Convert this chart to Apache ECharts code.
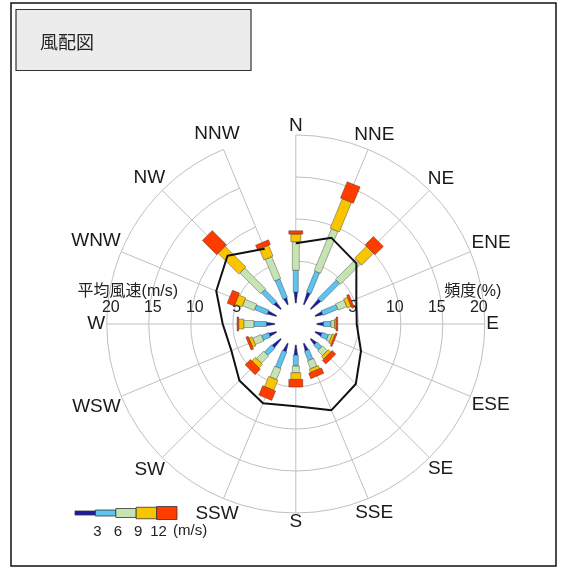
<!DOCTYPE html>
<html>
<head>
<meta charset="utf-8">
<script src="https://cdn.jsdelivr.net/npm/echarts@6/dist/echarts.min.js"></script>
<style>
  html, body { margin: 0; padding: 0; background: #fff; }
  #chart { width: 564px; height: 569px; }
</style>
</head>
<body>
<div id="chart"></div>
<script>
// 16 directions, clockwise from north
const directions = ['N', 'NNE', 'NE', 'ENE', 'E', 'ESE', 'SE', 'SSE', 'S', 'SSW', 'SW', 'WSW', 'W', 'WNW', 'NW', 'NNW'];

// frequency (%) by wind speed class
const freq0to3   = [1.3, 1.5, 1.5, 0.9, 0.8, 0.8, 0.8, 0.9, 1.2, 1.0, 1.3, 0.9, 1.0, 1.1, 1.0, 0.8];
const freq3to6   = [2.6, 2.7, 3.1, 1.9, 0.9, 0.8, 0.8, 1.2, 1.3, 2.1, 1.2, 0.9, 1.5, 1.6, 2.0, 2.4];
const freq6to9   = [3.4, 5.4, 3.4, 1.1, 0.4, 0.4, 0.8, 1.0, 0.8, 1.4, 1.2, 1.1, 1.2, 1.5, 3.5, 2.8];
const freq9to12  = [0.9, 3.8, 2.0, 0.5, 0.2, 0.3, 0.4, 0.4, 0.8, 1.3, 0.6, 0.4, 0.6, 0.9, 3.5, 1.4];
const freq12up   = [0.4, 2.1, 1.4, 0.3, 0.2, 0.2, 0.6, 0.7, 0.9, 1.2, 0.9, 0.3, 0.2, 0.9, 2.4, 0.6];

// mean wind speed (m/s) by direction
const meanSpeed  = [7.1, 8.6, 7.7, 5.3, 4.75, 5.9, 7.6, 8.6, 7.3, 7.7, 7.0, 5.8, 6.2, 7.75, 9.0, 7.2];

const speedClasses = ['0-3', '3-6', '6-9', '9-12', '12-'];
const legendTicks = ['3', '6', '9', '12'];
const radialMax = 20;
const radialStep = 5;

const classSeries = [freq0to3, freq3to6, freq6to9, freq9to12, freq12up];
const classColors = ['#1b1ba8', '#5ec3ee', '#c6e4b3', '#f8c500', '#ff3c00'];
const classWidths = [[1, 3.5], [5, 5], [7, 7], [10, 10], [14, 14]];

const cx = 295.8, cy = 324, rIn = 21, rOut = 189;
const gridColor = '#c0c0c0';
const latin = '"Liberation Sans", Arial, "Noto Sans CJK JP", sans-serif';
const dirFont = '19px ' + latin;

const measureCtx = document.createElement('canvas').getContext('2d');
function textWidth(t, font) {
  measureCtx.font = font;
  return measureCtx.measureText(t).width;
}

function unitDir(api, i) {
  const a = api.coord([0, i]);
  const b = api.coord([radialMax, i]);
  const dx = b[0] - a[0], dy = b[1] - a[1];
  const len = Math.hypot(dx, dy) || 1;
  return [dx / len, dy / len];
}

function segmentSeries(k) {
  const data = classSeries[k].map((v, i) => {
    let base = 0;
    for (let j = 0; j < k; j++) base += classSeries[j][i];
    return [base + v, i, base];
  });
  return {
    type: 'custom',
    name: speedClasses[k],
    coordinateSystem: 'polar',
    polarIndex: 0,
    encode: { radius: 0, angle: 1 },
    data: data,
    z: 3,
    silent: true,
    renderItem: function (params, api) {
      const i = api.value(1);
      const u = unitDir(api, i);
      const nx = -u[1], ny = u[0];
      const p0 = api.coord([api.value(2), i]);
      const p1 = api.coord([api.value(0), i]);
      const w0 = classWidths[k][0] / 2, w1 = classWidths[k][1] / 2;
      return {
        type: 'polygon',
        shape: {
          points: [
            [p0[0] + nx * w0, p0[1] + ny * w0],
            [p1[0] + nx * w1, p1[1] + ny * w1],
            [p1[0] - nx * w1, p1[1] - ny * w1],
            [p0[0] - nx * w0, p0[1] - ny * w0]
          ]
        },
        style: { fill: classColors[k], stroke: 'rgba(40,40,40,0.55)', lineWidth: 0.7 }
      };
    }
  };
}

// closed outline of mean speed
const meanLine = meanSpeed.map((v, i) => [v, i]);
meanLine.push([meanSpeed[0], 0]);

const chart = echarts.init(document.getElementById('chart'));

const labelAxisCommon = {
  type: 'value',
  min: 0,
  max: radialMax,
  interval: radialStep,
  position: 'top',
  axisLine: { show: false },
  axisTick: { show: false },
  splitLine: { show: false },
  nameLocation: 'end',
  nameMoveOverlap: false
};

const legX = 75, legY = 513, legW = 20.4;
const legH = [4, 6, 9, 11.5, 13];
const legendGraphics = [];
classColors.forEach((c, k) => {
  legendGraphics.push({
    type: 'rect',
    shape: { x: legX + k * legW, y: legY - legH[k] / 2, width: legW, height: legH[k] },
    style: { fill: c, stroke: '#333', lineWidth: 0.8 }
  });
});
legendTicks.forEach((t, k) => {
  legendGraphics.push({
    type: 'text',
    x: legX + (k + 1) * legW + 2,
    y: 532,
    style: { text: t, font: '15px ' + latin, fill: '#222', align: 'center', verticalAlign: 'middle' }
  });
});
legendGraphics.push({
  type: 'text',
  x: legX + 5 * legW - 4,
  y: 531,
  style: { text: '(m/s)', font: '15px ' + latin, fill: '#222', align: 'left', verticalAlign: 'middle' }
});

const option = {
  animation: false,
  backgroundColor: '#fff',
  polar: [{ center: [cx, cy], radius: [rIn, rOut] }],
  angleAxis: [{
    polarIndex: 0,
    type: 'category',
    data: directions,
    boundaryGap: false,
    startAngle: 90,
    clockwise: true,
    axisLine: { show: false },
    axisTick: { show: false },
    axisLabel: { show: false },
    splitLine: { show: true, interval: 0, lineStyle: { color: gridColor, width: 1 } }
  }],
  radiusAxis: [{
    polarIndex: 0,
    type: 'value',
    min: 0,
    max: radialMax,
    interval: radialStep,
    axisLine: { show: false },
    axisTick: { show: false },
    axisLabel: { show: false },
    splitLine: {
      show: true,
      lineStyle: { color: ['rgba(0,0,0,0)', gridColor, gridColor, gridColor, gridColor], width: 1 }
    }
  }],
  grid: [
    { left: cx + rIn, top: cy, width: rOut - rIn, height: 10 },
    { left: cx - rOut, top: cy, width: rOut - rIn, height: 10 }
  ],
  xAxis: [
    Object.assign({}, labelAxisCommon, {
      gridIndex: 0,
      name: '頻度(%)',
      nameGap: -12,
      nameTextStyle: { fontSize: 16, fontFamily: latin, color: '#222', align: 'center', verticalAlign: 'bottom', padding: [0, 0, 34, 0] },
      axisLabel: {
        fontSize: 16, fontFamily: latin, color: '#222', margin: 8,
        padding: [0, 12, 0, 0],
        formatter: v => (v === 0 ? '' : String(v))
      }
    }),
    Object.assign({}, labelAxisCommon, {
      gridIndex: 1,
      inverse: true,
      name: '平均風速(m/s)',
      nameGap: -21,
      nameTextStyle: { fontSize: 16, fontFamily: latin, color: '#222', align: 'center', verticalAlign: 'bottom', padding: [0, 0, 34, 0] },
      axisLabel: {
        fontSize: 16, fontFamily: latin, color: '#222', margin: 8,
        padding: [0, 0, 0, 8],
        formatter: v => (v === 0 ? '' : String(v))
      }
    })
  ],
  yAxis: [
    { gridIndex: 0, show: false, type: 'value' },
    { gridIndex: 1, show: false, type: 'value' }
  ],
  graphic: [
    { type: 'rect', shape: { x: 11, y: 3, width: 545, height: 563 }, style: { fill: 'none', stroke: '#111', lineWidth: 1.5 } },
    { type: 'rect', shape: { x: 16, y: 9.5, width: 235, height: 61 }, style: { fill: '#ececec', stroke: '#333', lineWidth: 1.2 } },
    { type: 'text', x: 40, y: 42, style: { text: '風配図', font: '18px "Noto Sans CJK JP", sans-serif', fill: '#222', verticalAlign: 'middle' } }
  ].concat(legendGraphics),
  series: [0, 1, 2, 3, 4].map(segmentSeries).concat([
    {
      type: 'line',
      name: '平均風速',
      coordinateSystem: 'polar',
      polarIndex: 0,
      data: meanLine,
      symbol: 'none',
      clip: false,
      z: 5,
      silent: true,
      lineStyle: { color: '#111', width: 2 }
    },
    {
      type: 'custom',
      coordinateSystem: 'polar',
      polarIndex: 0,
      encode: { radius: 0, angle: 1 },
      data: directions.map((d, i) => [radialMax, i]),
      z: 4,
      silent: true,
      renderItem: function (params, api) {
        const i = api.value(1);
        const u = unitDir(api, i);
        const b = api.coord([radialMax, i]);
        const name = directions[i];
        const w = textWidth(name, dirFont), h = 15;
        const off = 1.5 + (w / 2) * Math.abs(u[0]) + (h / 2) * Math.abs(u[1]);
        return {
          type: 'text',
          x: b[0] + u[0] * off,
          y: b[1] + u[1] * off,
          style: { text: name, font: dirFont, fill: '#1a1a1a', align: 'center', verticalAlign: 'middle' }
        };
      }
    }
  ])
};

chart.setOption(option);
</script>
</body>
</html>
